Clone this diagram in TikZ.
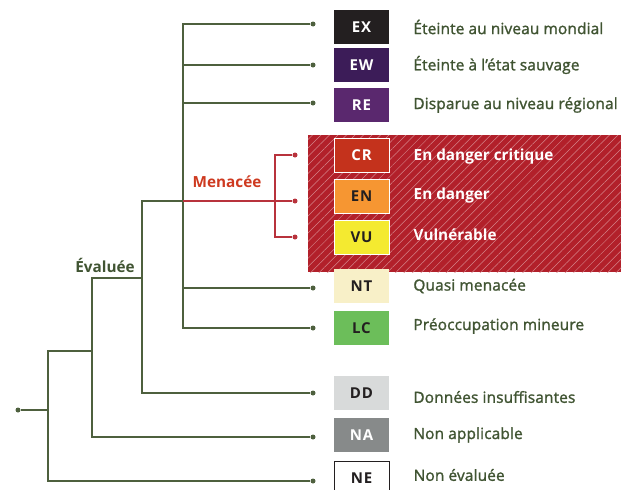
\documentclass[tikz,border=0pt]{standalone}
\usepackage{fontspec}
\setmainfont{Open Sans}
\newfontfamily\semifont[FakeBold=1.5,LetterSpace=1]{Open Sans}
\newfontfamily\codefont[LetterSpace=6]{Open Sans}
\usetikzlibrary{positioning,patterns.meta}
\definecolor{treegreen}{RGB}{78,96,62}
\definecolor{textgreen}{RGB}{64,84,50}
\definecolor{threatred}{RGB}{178,32,42}
\definecolor{threatline}{RGB}{184,50,60}
\definecolor{threattext}{RGB}{206,58,32}
\definecolor{exblack}{RGB}{35,31,32}
\definecolor{ewpurple}{RGB}{60,28,88}
\definecolor{repurple}{RGB}{90,40,110}
\definecolor{crred}{RGB}{196,50,28}
\definecolor{enorange}{RGB}{246,150,50}
\definecolor{vuyellow}{RGB}{244,234,48}
\definecolor{ntcream}{RGB}{248,240,200}
\definecolor{lcgreen}{RGB}{108,190,90}
\definecolor{ddgrey}{RGB}{216,218,218}
\definecolor{nagrey}{RGB}{135,138,138}

\begin{document}
\begin{tikzpicture}[x=1pt,y=-1pt,
    branch/.style={treegreen,line width=1.3pt},
    redbranch/.style={threatline,line width=1.3pt},
    tip/.style={circle,fill=treegreen,inner sep=0pt,minimum size=5pt},
    redtip/.style={tip,fill=threatline},
    catbox/.style={minimum width=55pt,minimum height=34pt,inner sep=0pt,
      font=\codefont\bfseries\fontsize{15}{15}\selectfont},
    catlabel/.style={right=24pt of #1,font=\semifont\fontsize{15.4}{17}\selectfont,
      text=textgreen,inner sep=0pt},
    redlabel/.style={catlabel=#1,text=white,font=\bfseries\fontsize{15.3}{17}\selectfont}]
  \useasboundingbox (0,0) rectangle (632,490);

  % threatened zone
  \fill[threatred] (308,135) rectangle (621,272);
  \fill[pattern={Lines[angle=45,distance=6pt,line width=0.5pt]},
    pattern color=white!45!threatred] (308,135) rectangle (621,272);

  % category boxes
  \node[catbox,fill=exblack,text=white] (ex) at (361.5,27) {EX};
  \node[catbox,fill=ewpurple,text=white] (ew) at (361.5,65) {EW};
  \node[catbox,fill=repurple,text=white] (re) at (361.5,105) {RE};
  \node[catbox,fill=crred,draw=white,line width=1pt,text=white] (cr) at (361.5,155) {CR};
  \node[catbox,fill=enorange,draw=white,line width=1pt,text=exblack] (en) at (361.5,196) {EN};
  \node[catbox,fill=vuyellow,draw=white,line width=1pt,text=exblack] (vu) at (361.5,237) {VU};
  \node[catbox,fill=ntcream,text=exblack] (nt) at (361.5,286) {NT};
  \node[catbox,fill=lcgreen,text=exblack] (lc) at (361.5,328) {LC};
  \node[catbox,fill=ddgrey,text=exblack] (dd) at (361.5,393) {DD};
  \node[catbox,fill=nagrey,text=white] (na) at (361.5,435) {NA};
  \node[catbox,fill=white,draw=exblack,line width=1pt,text=exblack] (ne) at (361.5,478) {NE};

  % labels
  \node[catlabel=ex] {Éteinte au niveau mondial};
  \node[catlabel=ew] {Éteinte à l’état sauvage};
  \node[catlabel=re] {Disparue au niveau régional};
  \node[redlabel=cr, yshift=-2pt] {En danger critique};
  \node[redlabel=en] {En danger};
  \node[redlabel=vu, yshift=2pt] {Vulnérable};
  \node[catlabel=nt] {Quasi menacée};
  \node[catlabel=lc, yshift=2pt] {Préoccupation mineure};
  \node[catlabel=dd, yshift=-4pt] {Données insuffisantes};
  \node[catlabel=na] {Non applicable};
  \node[catlabel=ne, yshift=3pt] {Non évaluée};

  % branch tips
  \node[tip] (tex) at (313,24) {};
  \node[tip] (tew) at (313,65) {};
  \node[tip] (tre) at (313,103) {};
  \node[redtip] (tcr) at (295,155) {};
  \node[redtip] (ten) at (295,201) {};
  \node[redtip] (tvu) at (295,237) {};
  \node[tip] (tnt) at (313,288) {};
  \node[tip] (tlc) at (313,328) {};
  \node[tip] (tdd) at (313,393) {};
  \node[tip] (tna) at (313,437) {};
  \node[tip] (tne) at (313,481) {};
  \node[tip] (root) at (18,410) {};

  % tree
  \coordinate (nall) at (48,410);
  \coordinate (neval) at (92,351);
  \coordinate (ndd) at (142,278);
  \coordinate (nmen) at (183,201);
  \draw[branch] (root) -- (nall);
  \draw[branch] (neval) -- (48,351) |- (tne);
  \draw[branch] (ndd) -- (92,278) |- (tna);
  \draw[branch] (nmen) -- (142,201) |- (tdd);
  \draw[branch] (tex) -- (183,24) |- (tlc);
  \draw[branch] (183,65) -- (tew);
  \draw[branch] (183,103) -- (tre);
  \draw[branch] (183,288) -- (tnt);
  \draw[redbranch] (nmen) -- (ten);
  \draw[redbranch] (tcr) -- (275,155) |- (tvu);

  \node[text=threattext,font=\bfseries\fontsize{15.3}{17}\selectfont] (menacee) at (227,182) {Menacée};
  \node[text=textgreen,font=\bfseries\fontsize{15.3}{17}\selectfont] (evaluee) at (105,265) {Évaluée};
\end{tikzpicture}
\end{document}
